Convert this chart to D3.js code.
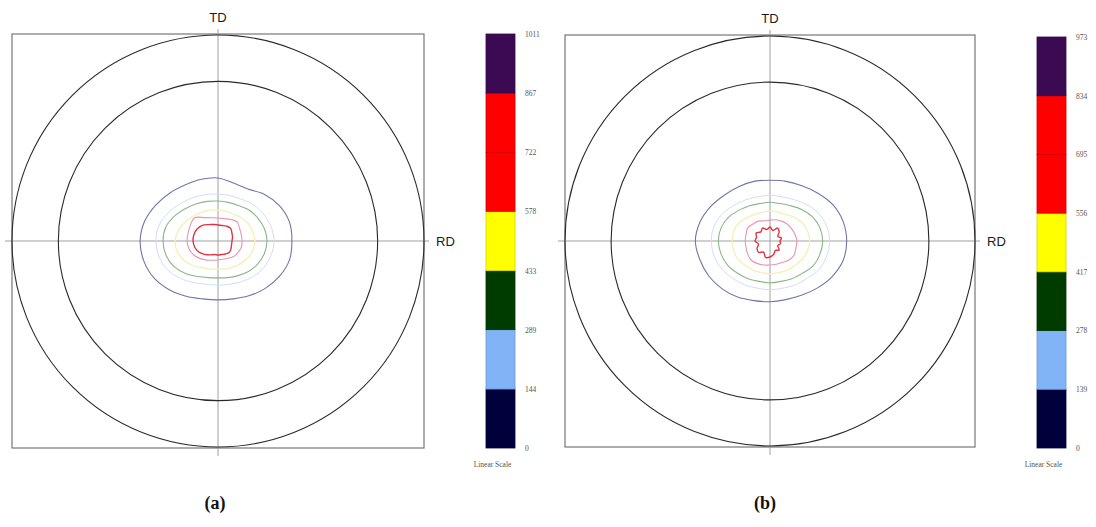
<!DOCTYPE html>
<html>
<head>
<meta charset="utf-8">
<script src="https://cdn.jsdelivr.net/npm/d3@7"></script>
<style>
  html, body { margin: 0; padding: 0; background: #fff; }
  svg { display: block; }
</style>
</head>
<body>
<svg id="chart" width="1096" height="527"></svg>
<script>
// Colour-scale levels of the two pole figures (linear scale)
const levelsA = [0, 144, 289, 433, 578, 722, 867, 1011];
const levelsB = [0, 139, 278, 417, 556, 695, 834, 973];
// Band fill between successive levels
const bandColors = ["#00003c", "#80b4f6", "#003c00", "#ffff00", "#ff0000", "#ff0000", "#3c0a52"];

// Contour sampling directions (degrees, 0 = RD, 90 = TD)
const contourAngles = [0, 15, 30, 45, 60, 75, 90, 105, 120, 135, 150, 165,
                       180, 195, 210, 225, 240, 255, 270, 285, 300, 315, 330, 345];

// Contour radii, percent of the pole-figure radius, one value per direction
// Pole figure (a)
const aContour1 = [35.9,35.9,34.4,32.0,29.1,29.1,30.6,31.0,31.5,33.0,34.9,36.9,37.8,37.3,35.9,33.5,31.0,29.1,28.6,29.1,30.6,32.5,34.4,35.9];
const aContour2 = [27.2,26.7,25.7,24.7,23.3,22.8,22.8,23.3,24.3,25.7,27.7,29.6,30.1,29.6,28.2,25.7,23.3,21.8,21.4,21.8,22.8,24.3,25.7,26.7];
const aContour3 = [23.8,23.3,22.3,21.3,19.9,19.4,19.4,19.9,20.9,22.3,24.3,26.2,26.7,26.2,24.7,22.3,19.9,18.4,17.9,18.4,19.4,20.9,22.3,23.3];
const aContour4 = [18.0,17.5,17.0,16.0,15.0,15.0,15.0,15.5,16.0,17.0,18.4,19.9,20.9,20.4,18.9,17.0,15.0,14.1,13.6,14.1,14.6,15.5,16.5,17.5];
const aContour5 = [11.7,11.7,12.1,13.1,12.1,11.2,11.2,11.7,13.1,16.0,15.5,15.0,15.0,14.6,13.6,12.1,10.7,9.7,9.2,9.2,9.7,10.7,11.2,11.7];
const aContour6 = [6.8,7.3,7.8,8.7,8.3,7.8,7.8,8.3,9.2,10.7,11.7,12.1,12.1,11.7,10.7,9.2,7.8,6.8,6.8,6.8,7.3,7.8,7.3,6.8];
// Pole figure (b)
const bContour1 = [37.4,36.9,35.4,33.0,31.1,30.1,29.6,30.1,30.6,31.6,33.5,35.4,36.4,35.4,34.4,33.0,31.6,30.1,29.6,29.6,30.6,32.5,34.9,36.9];
const bContour2 = [29.1,28.6,27.2,25.2,23.3,22.3,22.3,22.3,23.3,24.7,26.7,28.2,28.6,28.2,27.2,25.7,24.7,23.8,23.8,23.8,24.7,25.7,27.7,28.6];
const bContour3 = [25.7,25.2,23.8,21.8,19.9,18.9,18.9,18.9,19.9,21.3,23.3,24.7,25.2,24.7,23.8,22.3,21.3,20.4,20.4,20.4,21.3,22.3,24.3,25.2];
const bContour4 = [19.4,18.9,18.0,16.5,15.0,14.6,14.6,14.6,15.0,16.0,17.5,18.4,18.4,18.4,18.0,17.0,16.5,16.0,16.0,16.0,16.5,17.0,18.0,18.9];
const bContour5 = [13.1,12.6,12.1,11.7,11.2,10.7,10.2,10.2,11.2,11.7,12.6,12.1,12.1,12.1,12.6,13.1,12.6,12.1,11.7,11.7,12.1,13.1,13.6,13.1];
const bContour6 = [4.9,5.8,4.4,6.3,7.3,5.3,6.8,5.8,7.3,6.3,7.8,6.8,7.3,5.8,7.3,7.8,6.3,8.3,7.8,6.8,5.3,6.3,4.4,5.3];

// Contour line colours, outermost first
const contourColors = ["#7474a8", "#d2def4", "#88b888", "#f2f2b4", "#eb94ae", "#e03446"];
const contourWidths = [1.1, 1, 1.1, 1.3, 1.1, 1.4];

// Pole-figure inner circle, percent of the outer radius
const innerCirclePct = 77.5;

const svg = d3.select("#chart");

function poleFigure(opt) {
  const g = svg.append("g");
  const { cx, cy, R } = opt;
  const r = d3.scaleLinear().domain([0, 100]).range([0, R]);

  // frame
  g.append("rect")
    .attr("x", cx - R).attr("y", cy - R - 1)
    .attr("width", 2 * R).attr("height", 2 * R + 2)
    .attr("fill", "none").attr("stroke", "#777").attr("stroke-width", 1.2);

  // reference axes
  g.append("line")
    .attr("x1", cx - R - 7).attr("x2", cx + R + 5)
    .attr("y1", cy).attr("y2", cy)
    .attr("stroke", "#a0a0a0").attr("stroke-width", 1);
  g.append("line")
    .attr("x1", cx).attr("x2", cx)
    .attr("y1", cy - R - 6).attr("y2", cy + R + 9)
    .attr("stroke", "#a0a0a0").attr("stroke-width", 1);

  // contours
  const radial = d3.lineRadial()
    .angle(d => (90 - d.a) * Math.PI / 180)
    .radius(d => r(d.v))
    .curve(d3.curveCatmullRomClosed.alpha(0.5));
  opt.contours.forEach((vals, i) => {
    const pts = contourAngles.map((a, k) => ({ a, v: vals[k] }));
    g.append("path")
      .attr("transform", `translate(${cx},${cy})`)
      .attr("d", radial(pts))
      .attr("fill", "none")
      .attr("stroke", contourColors[i])
      .attr("stroke-width", contourWidths[i])
      .attr("stroke-linejoin", "round");
  });

  // circles
  [100, innerCirclePct].forEach(p => {
    g.append("circle")
      .attr("cx", cx).attr("cy", cy).attr("r", r(p))
      .attr("fill", "none").attr("stroke", "#2a2a2a").attr("stroke-width", 1.1);
  });

  // direction labels
  g.append("text").text("TD")
    .attr("x", cx).attr("y", cy - R - 13)
    .attr("text-anchor", "middle")
    .attr("font-family", "Liberation Sans, Arial, sans-serif")
    .attr("font-size", 13).attr("fill", "#1a1a1a");
  g.append("text").text("RD")
    .attr("x", cx + R + 12).attr("y", cy + 5)
    .attr("font-family", "Liberation Sans, Arial, sans-serif")
    .attr("font-size", 13).attr("fill", "#1a1a1a");

  // caption
  g.append("text").text(opt.caption)
    .attr("x", opt.capX).attr("y", 509)
    .attr("text-anchor", "middle")
    .attr("font-family", "Liberation Serif, Times New Roman, serif")
    .attr("font-weight", "bold")
    .attr("font-size", 18).attr("fill", "#111");

  // colour bar
  const levels = opt.levels;
  const y = d3.scaleLinear()
    .domain([0, levels[levels.length - 1]])
    .range([opt.barBottom, opt.barTop]);
  const bar = g.append("g");
  bar.selectAll("rect")
    .data(d3.pairs(levels))
    .join("rect")
    .attr("x", opt.barX)
    .attr("y", d => y(d[1]))
    .attr("width", opt.barW)
    .attr("height", d => y(d[0]) - y(d[1]))
    .attr("fill", (d, i) => bandColors[i])
    .attr("stroke", (d, i) => d3.color(bandColors[i]).darker(0.5))
    .attr("stroke-width", 0.8);

  const axis = d3.axisRight(y)
    .tickValues(levels)
    .tickFormat(d3.format("d"))
    .tickSize(0).tickPadding(0);
  const ax = g.append("g")
    .attr("transform", `translate(${opt.barX + opt.barW + 10},0)`)
    .call(axis);
  ax.select(".domain").remove();
  ax.selectAll("text")
    .attr("font-family", "Liberation Serif, Times New Roman, serif")
    .attr("font-size", 7.5).attr("fill", "#555");

  g.append("text").text("Linear Scale")
    .attr("x", opt.barX + opt.barW / 2 - 8).attr("y", opt.barBottom + 19)
    .attr("text-anchor", "middle")
    .attr("font-family", "Liberation Serif, Times New Roman, serif")
    .attr("font-size", 7.5).attr("fill", "#555");
}

poleFigure({
  cx: 218, cy: 241, R: 206, caption: "(a)", capX: 215,
  contours: [aContour1, aContour2, aContour3, aContour4, aContour5, aContour6],
  levels: levelsA, barX: 486, barW: 29, barTop: 34, barBottom: 448
});
poleFigure({
  cx: 770, cy: 241, R: 205, caption: "(b)", capX: 765,
  contours: [bContour1, bContour2, bContour3, bContour4, bContour5, bContour6],
  levels: levelsB, barX: 1037, barW: 29, barTop: 37, barBottom: 448
});
</script>
</body>
</html>
